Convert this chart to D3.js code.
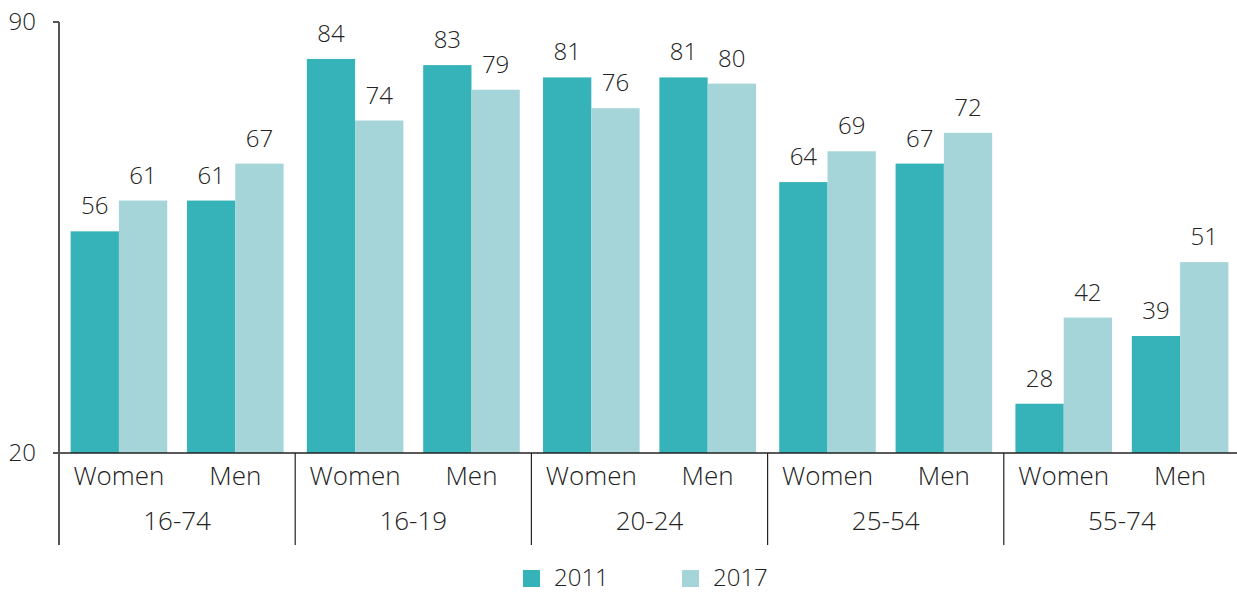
<!DOCTYPE html>
<html>
<head>
<meta charset="utf-8">
<script src="https://cdn.jsdelivr.net/npm/d3@7"></script>
<style>
  body { margin: 0; background: #fff; }
  svg text { font-family: "Open Sans", sans-serif; font-weight: 300; fill: #222; }
</style>
</head>
<body>
<div id="chart"></div>
<script>
// data
const groups = ["16-74", "16-19", "20-24", "25-54", "55-74"];
const sexes = ["Women", "Men"];
const years = ["2011", "2017"];
const values2011 = [56, 61, 84, 83, 81, 81, 64, 67, 28, 39];
const values2017 = [61, 67, 74, 79, 76, 80, 69, 72, 42, 51];
const yTicks = [20, 90];
const colors = ["#35b3b8", "#a5d5d8"];

const width = 1237, height = 592;
const plotLeft = 59, plotRight = 1240, plotTop = 22, base = 453, plotBottom = 545;

const svg = d3.select("#chart").append("svg")
    .attr("width", width)
    .attr("height", height);

// build rows
let rows = [];
groups.forEach(function (g, i) {
    sexes.forEach(function (s, j) {
        const k = i * 2 + j;
        rows.push({group: g, sex: s, v: [values2011[k], values2017[k]]});
    });
});

const x0 = d3.scaleBand().domain(groups).range([plotLeft, plotRight]);
const x1 = d3.scaleBand().domain(sexes).range([0, x0.bandwidth()])
    .paddingInner(0.17).paddingOuter(0.1);
const x2 = d3.scaleBand().domain(years).range([0, x1.bandwidth()]);
const y = d3.scaleLinear().domain([20, 90]).range([base, plotTop]);

// bars
const sub = svg.selectAll("g.sub")
    .data(rows)
    .join("g")
    .attr("class", "sub")
    .attr("transform", d => `translate(${x0(d.group) + x1(d.sex)},0)`);

sub.selectAll("rect")
    .data(d => d.v.map((v, i) => ({year: years[i], v: v, i: i})))
    .join("rect")
    .attr("x", d => x2(d.year))
    .attr("y", d => y(d.v))
    .attr("width", x2.bandwidth())
    .attr("height", d => base - y(d.v))
    .attr("fill", d => colors[d.i]);

sub.selectAll("text.val")
    .data(d => d.v.map((v, i) => ({year: years[i], v: v})))
    .join("text")
    .attr("class", "val")
    .attr("x", d => x2(d.year) + x2.bandwidth() / 2)
    .attr("y", d => y(d.v) - 17)
    .attr("text-anchor", "middle")
    .style("font-size", "24px")
    .text(d => d.v);

// sex labels
sub.append("text")
    .attr("x", x1.bandwidth() / 2)
    .attr("y", 485)
    .attr("text-anchor", "middle")
    .style("font-size", "26px")
    .text(d => d.sex);

// group labels
svg.selectAll("text.grp")
    .data(groups)
    .join("text")
    .attr("class", "grp")
    .attr("x", d => x0(d) + x0.bandwidth() / 2)
    .attr("y", 530)
    .attr("text-anchor", "middle")
    .style("font-size", "26px")
    .text(d => d);

// separators
svg.selectAll("line.sep")
    .data(groups.slice(1))
    .join("line")
    .attr("class", "sep")
    .attr("x1", d => x0(d)).attr("x2", d => x0(d))
    .attr("y1", base).attr("y2", plotBottom)
    .attr("stroke", "#222").attr("stroke-width", 1.2);

// baseline
svg.append("line")
    .attr("x1", plotLeft - 6).attr("x2", width)
    .attr("y1", base).attr("y2", base)
    .attr("stroke", "#222").attr("stroke-width", 1.5);

// y axis
svg.append("line")
    .attr("x1", plotLeft).attr("x2", plotLeft)
    .attr("y1", plotTop).attr("y2", plotBottom)
    .attr("stroke", "#555").attr("stroke-width", 2);

svg.selectAll("line.tick")
    .data(yTicks)
    .join("line")
    .attr("class", "tick")
    .attr("x1", plotLeft - 6).attr("x2", plotLeft)
    .attr("y1", d => y(d)).attr("y2", d => y(d))
    .attr("stroke", "#555").attr("stroke-width", 2);

svg.selectAll("text.ytick")
    .data(yTicks)
    .join("text")
    .attr("class", "ytick")
    .attr("x", 36)
    .attr("y", d => y(d))
    .attr("dy", "0.35em")
    .attr("text-anchor", "end")
    .style("font-size", "24px")
    .text(d => d);

// legend
const legX = [523, 682];
const leg = svg.selectAll("g.leg")
    .data(years)
    .join("g")
    .attr("class", "leg")
    .attr("transform", (d, i) => `translate(${legX[i]},570)`);

leg.append("rect")
    .attr("width", 17).attr("height", 17)
    .attr("fill", (d, i) => colors[i]);

leg.append("text")
    .attr("x", 31)
    .attr("y", 16)
    .style("font-size", "24px")
    .text(d => d);
</script>
</body>
</html>
